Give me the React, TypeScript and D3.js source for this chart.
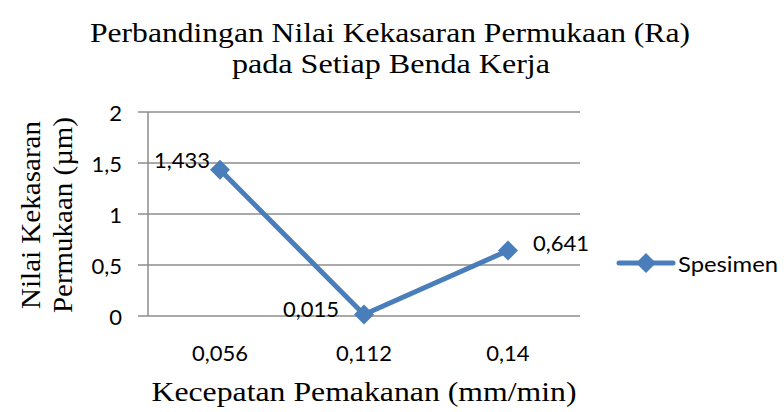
import * as d3 from "d3";

const categories = ["0,056", "0,112", "0,14"];
const values = [1.433, 0.015, 0.641];
const valueLabels = ["1,433", "0,015", "0,641"];
const yTicks = [0, 0.5, 1, 1.5, 2];
const yTickLabels = ["0", "0,5", "1", "1,5", "2"];
const seriesName = "Spesimen";

const BLUE = "#4A7EBB";
const GRID = "#8C8C8C";
const SANS = "Lato, 'Open Sans', sans-serif";
const SERIF =
  "'Liberation Serif', 'DejaVu Serif Condensed', 'DejaVu Serif', serif";

// diamond marker
const diamond = (cx: number, cy: number, r: number) =>
  `M${cx},${cy - r}L${cx + r},${cy}L${cx},${cy + r}L${cx - r},${cy}Z`;

export default function App() {
  const width = 784;
  const height = 412;
  const plot = { left: 148, right: 580, top: 112, bottom: 316 };

  const xScale = d3
    .scaleBand()
    .domain(categories)
    .range([plot.left, plot.right]);
  const yScale = d3
    .scaleLinear()
    .domain([0, 2])
    .range([plot.bottom, plot.top]);

  const cx = (i: number) => (xScale(categories[i]) || 0) + xScale.bandwidth() / 2;

  const line = d3
    .line<number>()
    .x((_, i) => cx(i))
    .y((d) => yScale(d));

  // label offsets, per point (as placed in the original)
  const labelPos = [
    { dx: -10, dy: -10, anchor: "end" },
    { dx: -25, dy: -6, anchor: "end" },
    { dx: 25, dy: -8, anchor: "start" },
  ];

  const serifStyle = { fontFamily: SERIF, fontStretch: "condensed" };

  return (
    <svg
      width={width}
      height={height}
      style={{ position: "absolute", left: 0, top: 0, background: "#fff" }}
    >
      {/* title */}
      <text
        x={390}
        y={42}
        textAnchor="middle"
        style={serifStyle}
        fontSize={27}
        textLength={600}
        lengthAdjust="spacingAndGlyphs"
        fill="#000"
      >
        Perbandingan Nilai Kekasaran Permukaan (Ra)
      </text>
      <text
        x={391}
        y={73}
        textAnchor="middle"
        style={serifStyle}
        fontSize={27}
        textLength={318}
        lengthAdjust="spacingAndGlyphs"
        fill="#000"
      >
        pada Setiap Benda Kerja
      </text>

      {/* gridlines + y ticks */}
      {yTicks.map((t, i) => (
        <g key={t}>
          <line
            x1={plot.left - 10}
            x2={plot.right}
            y1={yScale(t)}
            y2={yScale(t)}
            stroke={GRID}
            strokeWidth={1.5}
          />
          <text
            x={plot.left - 26}
            y={yScale(t)}
            textAnchor="end"
            dominantBaseline="central"
            fontFamily={SANS}
            fontSize={22}
            fill="#000"
          >
            {yTickLabels[i]}
          </text>
        </g>
      ))}
      <line
        x1={plot.left}
        x2={plot.left}
        y1={plot.top}
        y2={plot.bottom}
        stroke={GRID}
        strokeWidth={1.5}
      />

      {/* x labels */}
      {categories.map((c, i) => (
        <text
          key={c}
          x={cx(i)}
          y={352}
          textAnchor="middle"
          dominantBaseline="central"
          fontFamily={SANS}
          fontSize={22}
          fill="#000"
        >
          {c}
        </text>
      ))}

      {/* axis titles */}
      <text
        x={364}
        y={401}
        textAnchor="middle"
        style={serifStyle}
        fontSize={27}
        textLength={425}
        lengthAdjust="spacingAndGlyphs"
        fill="#000"
      >
        Kecepatan Pemakanan (mm/min)
      </text>
      <g transform="translate(0,215) rotate(-90)">
        <text
          x={0}
          y={40}
          textAnchor="middle"
          style={serifStyle}
          fontSize={27}
          textLength={188}
          lengthAdjust="spacingAndGlyphs"
          fill="#000"
        >
          Nilai Kekasaran
        </text>
        <text
          x={0}
          y={72}
          textAnchor="middle"
          style={serifStyle}
          fontSize={27}
          textLength={196}
          lengthAdjust="spacingAndGlyphs"
          fill="#000"
        >
          Permukaan (µm)
        </text>
      </g>

      {/* series */}
      <path
        d={line(values) || ""}
        fill="none"
        stroke={BLUE}
        strokeWidth={5}
        strokeLinejoin="round"
      />
      {values.map((v, i) => (
        <path key={i} d={diamond(cx(i), yScale(v), 10)} fill={BLUE} />
      ))}

      {/* data labels */}
      {values.map((v, i) => (
        <text
          key={`l${i}`}
          x={cx(i) + labelPos[i].dx}
          y={yScale(v) + labelPos[i].dy}
          textAnchor={labelPos[i].anchor}
          dominantBaseline="central"
          fontFamily={SANS}
          fontSize={22}
          fill="#000"
        >
          {valueLabels[i]}
        </text>
      ))}

      {/* legend */}
      <line x1={619} x2={673} y1={263} y2={263} stroke={BLUE} strokeWidth={5} strokeLinecap="round" />
      <path d={diamond(646, 263, 10)} fill={BLUE} />
      <text
        x={678}
        y={263}
        dominantBaseline="central"
        fontFamily={SANS}
        fontSize={22}
        fill="#000"
        textLength={100}
        lengthAdjust="spacingAndGlyphs"
      >
        {seriesName}
      </text>
    </svg>
  );
}
